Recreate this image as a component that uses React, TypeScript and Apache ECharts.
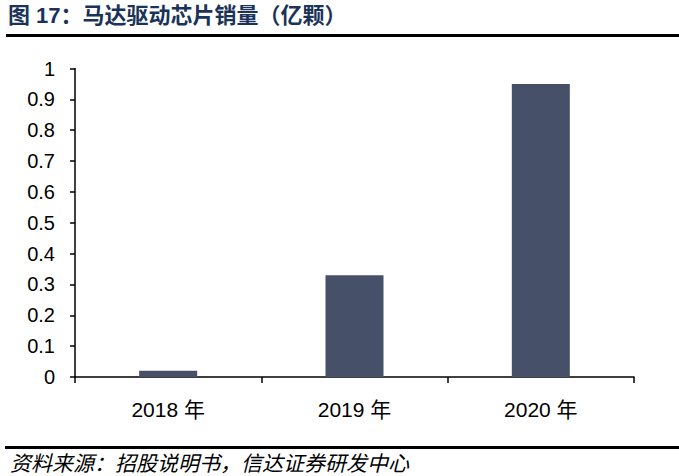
import * as React from "react";
import * as echarts from "echarts";
import { useEffect, useRef } from "react";

const years = ["2018年", "2019年", "2020年"];
const sales = [0.02, 0.33, 0.95];
const yTicks = [0, 0.1, 0.2, 0.3, 0.4, 0.5, 0.6, 0.7, 0.8, 0.9, 1];

const titleText = "图 17：马达驱动芯片销量（亿颗）";
const sourceText = "资料来源：招股说明书，信达证券研发中心";

const App = () => {
  const chartRef = useRef<HTMLDivElement>(null);

  useEffect(() => {
    if (!chartRef.current) return;
    const myChart = echarts.init(chartRef.current, null, { renderer: "svg" });

    const option = {
      animation: false,
      backgroundColor: "#ffffff",
      textStyle: { fontFamily: "Liberation Sans, Arial, Noto Sans CJK SC" },
      grid: { left: 75, right: 45, top: 68.5, bottom: 99 },
      xAxis: {
        type: "category",
        data: years.map((y) => y.replace("年", " 年")),
        axisLine: { lineStyle: { color: "#000", width: 1.5 } },
        axisTick: { show: true, length: 6, lineStyle: { color: "#000", width: 1.5 } },
        axisLabel: {
          color: "#000",
          fontSize: 21,
          margin: 22,
          fontFamily: "Liberation Sans, Noto Sans CJK SC",
        },
      },
      yAxis: {
        type: "value",
        min: yTicks[0],
        max: yTicks[yTicks.length - 1],
        interval: 0.1,
        axisLine: { show: true, lineStyle: { color: "#000", width: 1.5 } },
        axisTick: { show: true, length: 5, lineStyle: { color: "#000", width: 1.5 } },
        splitLine: { show: false },
        axisLabel: {
          color: "#000",
          fontSize: 20,
          margin: 20,
          fontFamily: "Liberation Sans",
          formatter: (v: number) => String(Math.round(v * 10) / 10),
        },
      },
      series: [
        {
          type: "bar",
          data: sales,
          barWidth: 58,
          itemStyle: { color: "#465069" },
        },
      ],
      graphic: [
        {
          type: "text",
          left: 8,
          top: 4,
          style: {
            text: titleText,
            fill: "#1b3358",
            font: "bold 22px 'Liberation Sans', 'Noto Sans CJK SC'",
          },
        },
        {
          type: "rect",
          shape: { x: 6, y: 34, width: 673, height: 3 },
          style: { fill: "#000" },
        },
        {
          type: "rect",
          shape: { x: 5, y: 446, width: 674, height: 3 },
          style: { fill: "#000" },
        },
        {
          type: "text",
          left: 10,
          top: 451,
          style: {
            text: sourceText,
            fill: "#000",
            font: "italic 21px 'Noto Sans CJK SC'",
          },
        },
      ],
    };

    myChart.setOption(option as any, true);

    return () => {
      myChart.dispose();
    };
  }, []);

  return <div ref={chartRef} style={{ width: 679, height: 476, position: "absolute", left: 0, top: 0 }} />;
};

export default App;
